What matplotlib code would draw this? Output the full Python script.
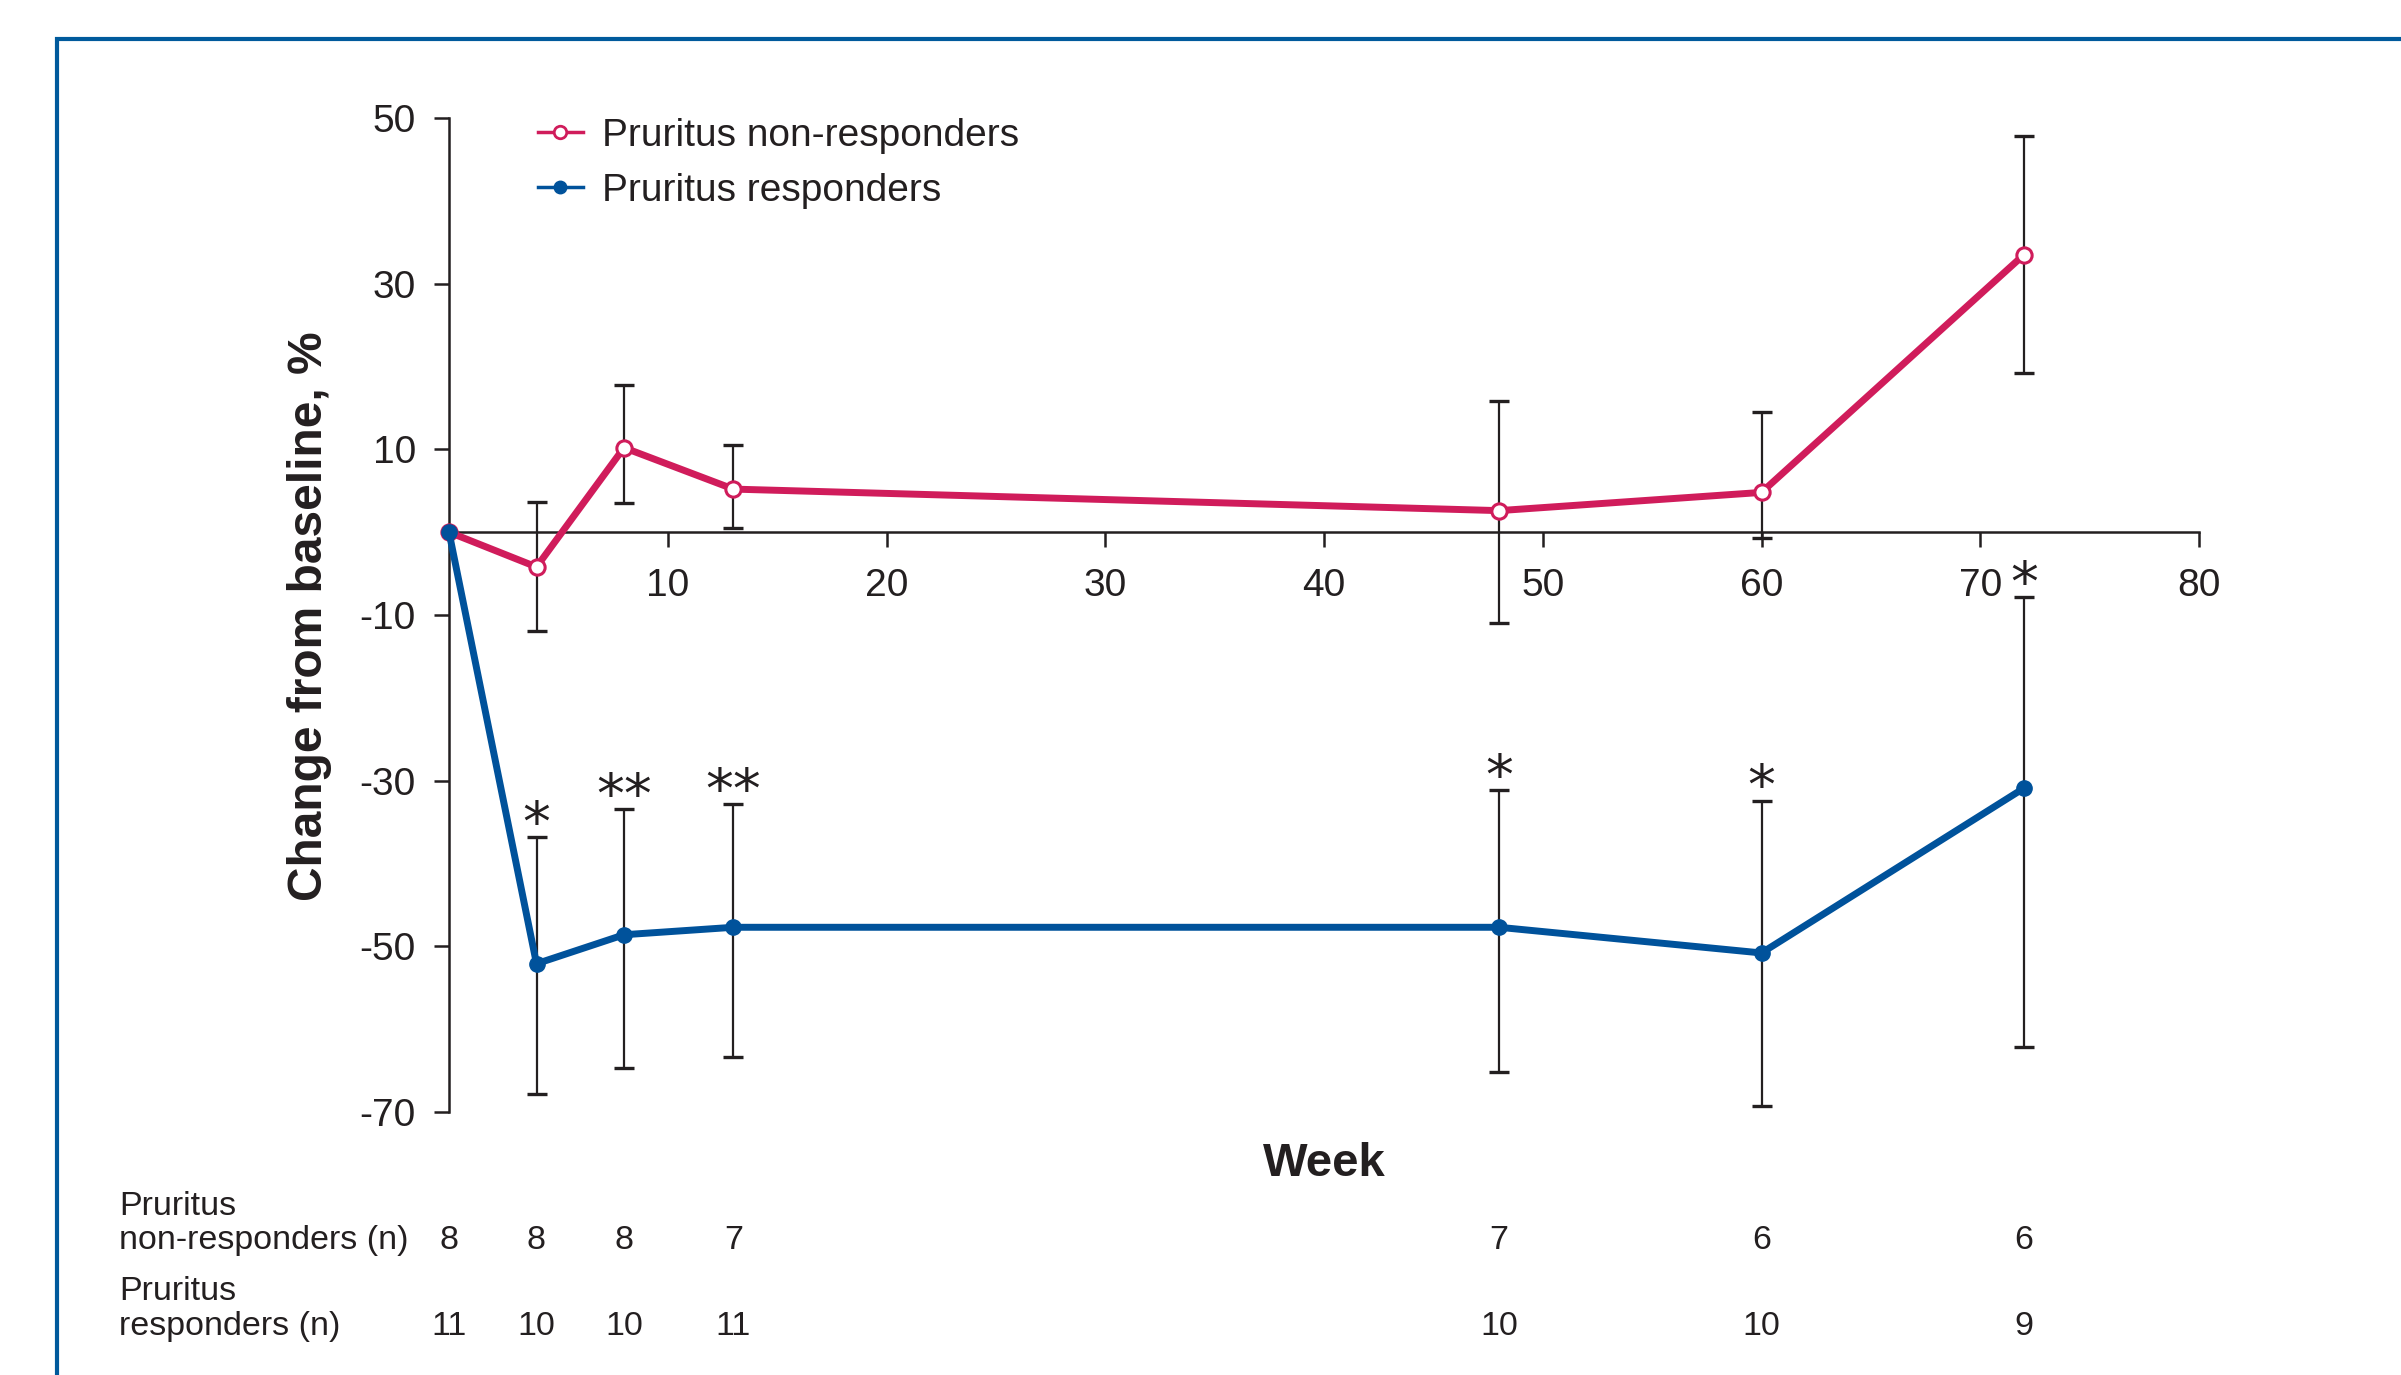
import matplotlib
matplotlib.use("Agg")
import matplotlib.pyplot as plt
import matplotlib.transforms as mtransforms
from matplotlib.lines import Line2D
from matplotlib.patches import Rectangle

plt.rcParams["font.family"] = ["Liberation Sans", "DejaVu Sans"]
plt.rcParams["axes.unicode_minus"] = False

# ---- data -------------------------------------------------------------
weeks = [0, 4, 8, 13, 48, 60, 72]

nonresp_mean = [0.0, -4.2, 10.2, 5.2, 2.6, 4.8, 33.5]
nonresp_low = [None, -11.9, 3.5, 0.5, -11.0, -0.7, 19.2]
nonresp_high = [None, 3.6, 17.8, 10.5, 15.8, 14.5, 47.8]

resp_mean = [0.0, -52.1, -48.6, -47.7, -47.7, -50.8, -30.9]
resp_low = [None, -67.8, -64.7, -63.4, -65.2, -69.3, -62.1]
resp_high = [None, -36.8, -33.4, -32.8, -31.1, -32.4, -7.8]

resp_stars = ["", "*", "**", "**", "*", "*", "*"]

n_nonresp = [8, 8, 8, 7, 7, 6, 6]
n_resp = [11, 10, 10, 11, 10, 10, 9]

x_ticks = [10, 20, 30, 40, 50, 60, 70, 80]
y_ticks = [-70, -50, -30, -10, 10, 30, 50]

legend_labels = ["Pruritus non-responders", "Pruritus responders"]

# ---- style ------------------------------------------------------------
INK = "#231F20"
PINK = "#D01C5B"
BLUE = "#00529B"
FRAME = "#005A9C"

W, H = 2401, 1375
fig = plt.figure(figsize=(W / 100, H / 100), dpi=100)


def fx(px):
    return px / W


def fy(py):
    return 1 - py / H


# outer panel frame
fig.add_artist(Rectangle((fx(57), -0.5), 2.0, fy(39) + 0.5, transform=fig.transFigure,
                         fill=False, ec=FRAME, lw=3.0))

ax = fig.add_axes([fx(449), fy(1112), fx(2199) - fx(449), fy(118) - fy(1112)])
ax.set_xlim(0, 80)
ax.set_ylim(-70, 50)

for side in ("top", "right"):
    ax.spines[side].set_visible(False)
ax.spines["bottom"].set_position(("data", 0))
for side in ("left", "bottom"):
    ax.spines[side].set_linewidth(1.8)
    ax.spines[side].set_color(INK)

ax.set_xticks(x_ticks)
ax.set_yticks(y_ticks)
ax.tick_params(direction="out", length=10.8, width=1.8, color=INK,
               labelsize=28, labelcolor=INK, pad=13)
ax.tick_params(axis="x", pad=15)


def err_pairs(mean, low, high):
    xs, ys, lo, hi = [], [], [], []
    for x, m, l, h in zip(weeks, mean, low, high):
        if l is None:
            continue
        xs.append(x)
        ys.append(m)
        lo.append(m - l)
        hi.append(h - m)
    return xs, ys, [lo, hi]


for mean, low, high in ((nonresp_mean, nonresp_low, nonresp_high),
                        (resp_mean, resp_low, resp_high)):
    xs, ys, yerr = err_pairs(mean, low, high)
    ax.errorbar(xs, ys, yerr=yerr, fmt="none", ecolor=INK, elinewidth=1.6,
                capsize=7, capthick=2.4, zorder=2, clip_on=False)

ax.plot(weeks, nonresp_mean, color=PINK, lw=5, marker="o", ms=11,
        mfc="white", mec=PINK, mew=2.2, zorder=3, clip_on=False)
ax.plot(weeks, resp_mean, color=BLUE, lw=5, marker="o", ms=11,
        mfc=BLUE, mec=BLUE, zorder=4, clip_on=False)

# significance markers above responder error bars
for x, top, s in zip(weeks, resp_high, resp_stars):
    if s:
        ax.annotate(s, (x, top), xytext=(0, 8), textcoords="offset points",
                    ha="center", va="center", fontsize=40, color=INK,
                    family="DejaVu Sans", annotation_clip=False)

# axis titles
fig.text(fx(309), fy(616), "Change from baseline, %", rotation=90,
         ha="center", va="center", fontsize=34.5, fontweight="bold", color=INK)
fig.text(fx(1324), fy(1164), "Week", ha="center", va="center",
         fontsize=34, fontweight="bold", color=INK)

# legend
handles = [
    Line2D([], [], color=PINK, lw=2.5, marker="o", ms=9, mfc="white", mec=PINK, mew=2),
    Line2D([], [], color=BLUE, lw=2.5, marker="o", ms=9, mfc=BLUE, mec=BLUE),
]
fig.legend(handles, legend_labels, loc="upper left", bbox_to_anchor=(fx(538), fy(118)),
           frameon=False, borderpad=0, borderaxespad=0, handlelength=1.15,
           handletextpad=0.5, labelspacing=0.48, fontsize=28, labelcolor=INK)

# numbers-at-risk table
tbl_fs = 24.5
left = fx(119)
fig.text(left, fy(1215), "Pruritus", va="baseline", fontsize=tbl_fs, color=INK)
fig.text(left, fy(1249), "non-responders (n)", va="baseline", fontsize=tbl_fs, color=INK)
fig.text(left, fy(1300), "Pruritus", va="baseline", fontsize=tbl_fs, color=INK)
fig.text(left, fy(1335), "responders (n)", va="baseline", fontsize=tbl_fs, color=INK)

trans = mtransforms.blended_transform_factory(ax.transData, fig.transFigure)
for x, n in zip(weeks, n_nonresp):
    ax.text(x, fy(1249), str(n), transform=trans, ha="center", va="baseline",
            fontsize=tbl_fs, color=INK, clip_on=False)
for x, n in zip(weeks, n_resp):
    ax.text(x, fy(1335), str(n), transform=trans, ha="center", va="baseline",
            fontsize=tbl_fs, color=INK, clip_on=False)

fig.savefig("out.png", dpi=100)
